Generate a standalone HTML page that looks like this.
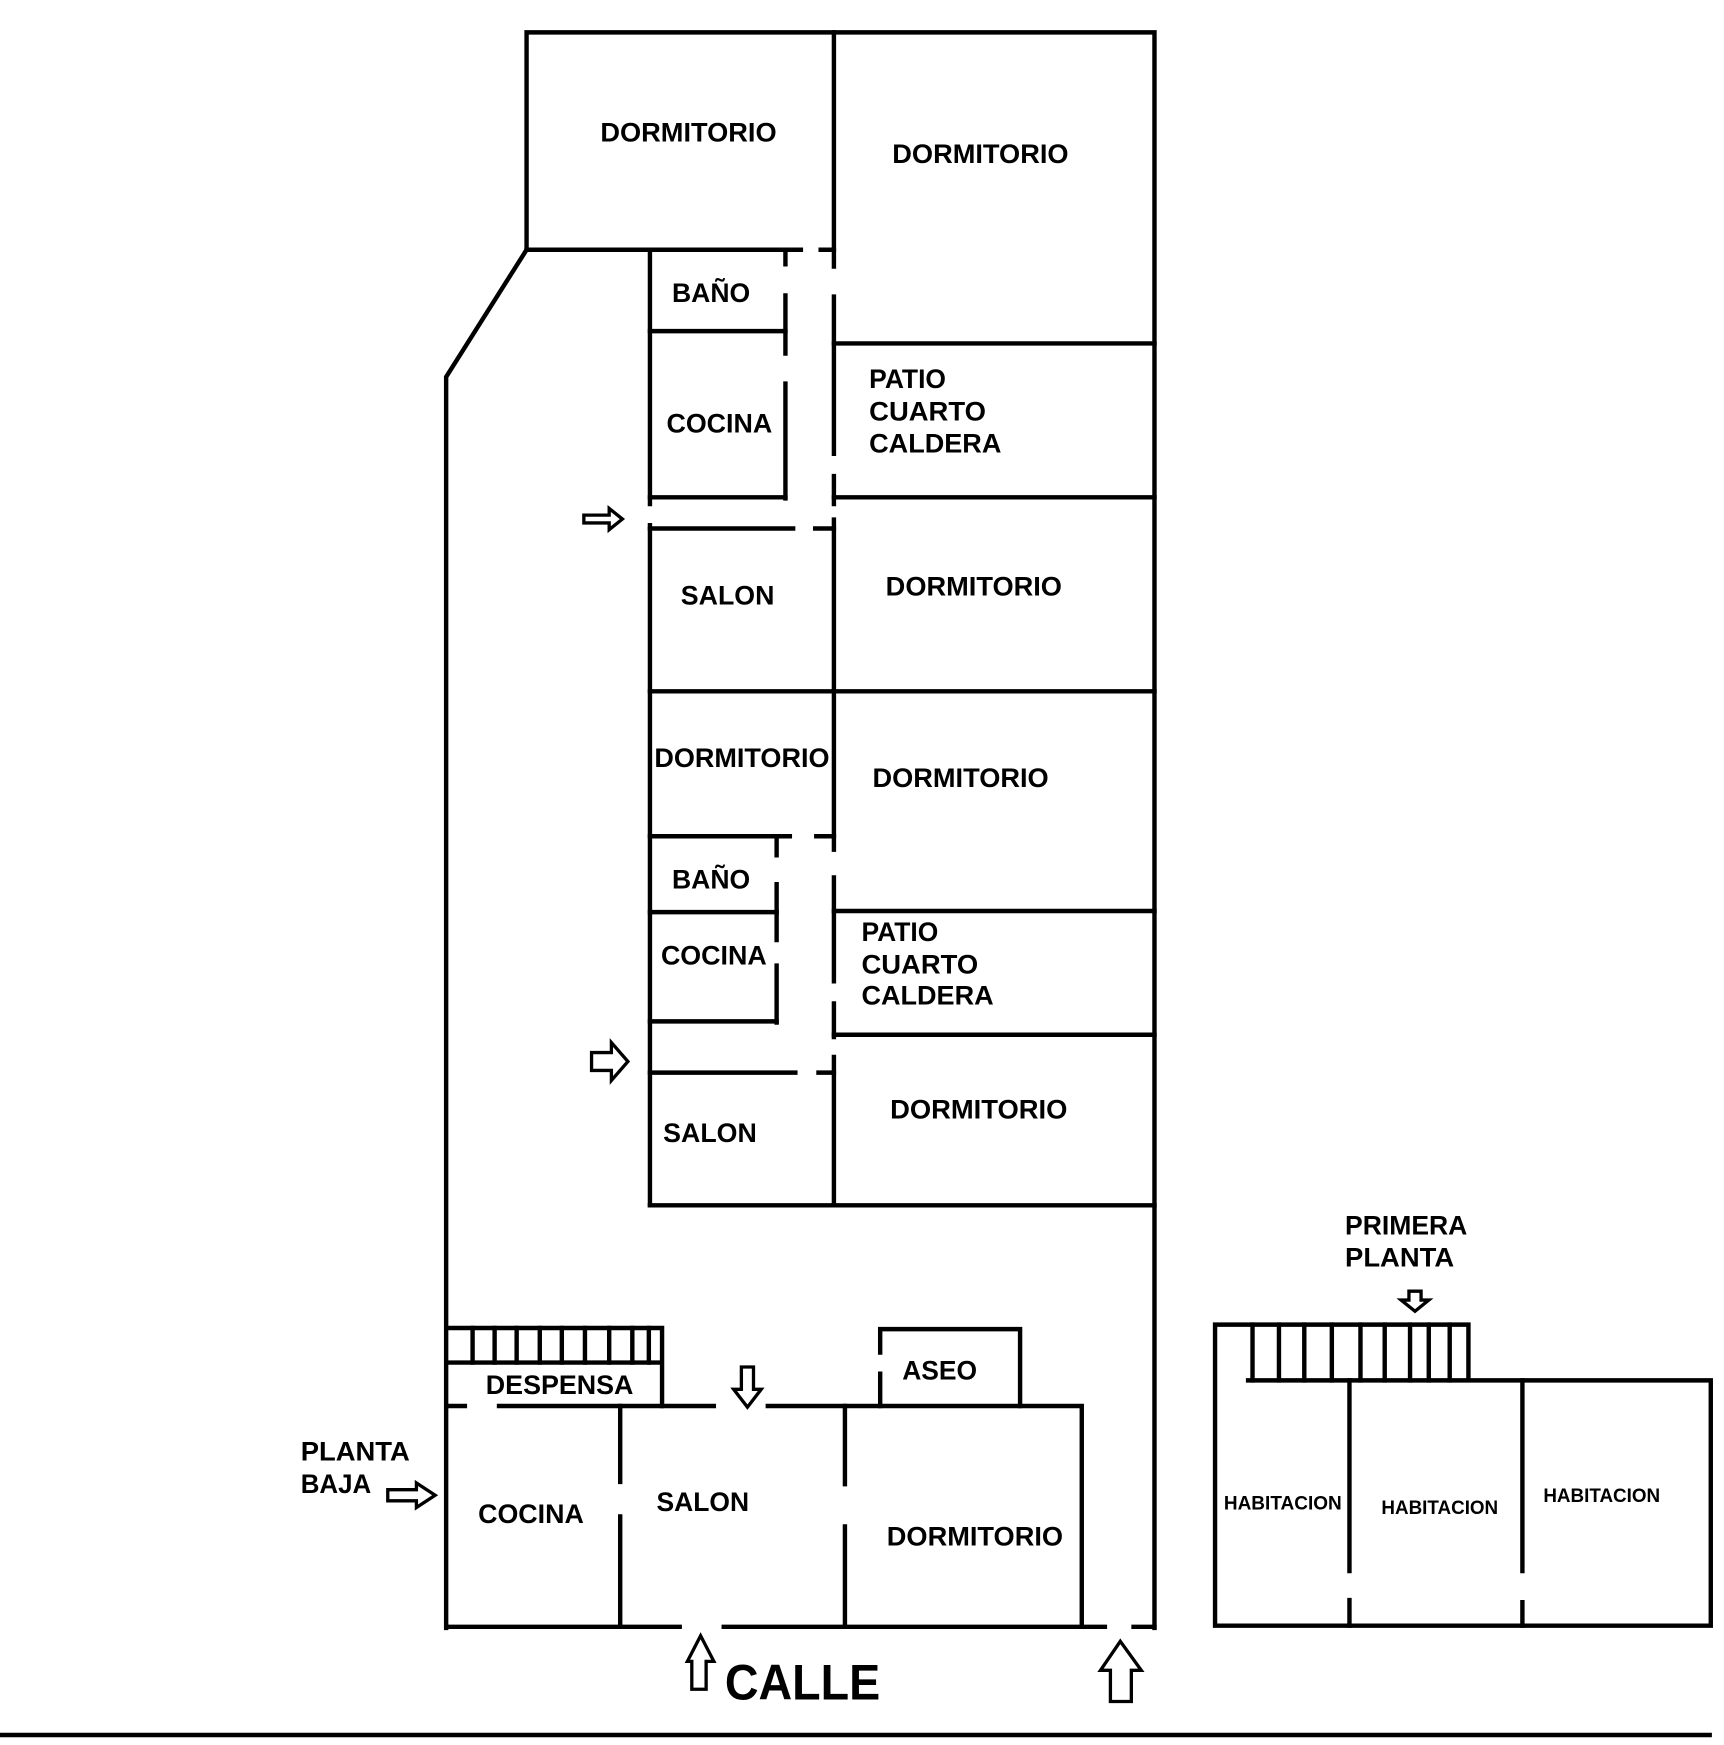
<!DOCTYPE html>
<html><head><meta charset="utf-8"><style>
html,body{margin:0;padding:0;background:#fff;width:1724px;height:1745px;overflow:hidden}
svg{display:block}
text{font-family:"Liberation Sans",Arial,sans-serif;font-weight:bold;fill:#000}
</style></head><body>
<svg width="1724" height="1745" viewBox="0 0 1565 1565" preserveAspectRatio="none" xmlns="http://www.w3.org/2000/svg">
<g stroke="#000" stroke-width="4" fill="none" stroke-linecap="square">
<!-- upper building outer -->
<path d="M478 224 V29 H1048 V1460"/>
<path d="M478 224 L405 338 V1460"/>
<path d="M478 224 H727 M745 224 H757"/>
<!-- central corridor wall x=757 -->
<path d="M757 29 V239 M757 266 V407 M757 427 V452 M757 466 V762 M757 787 V880 M757 900 V930 M757 948 V1081"/>
<!-- top bano/cocina -->
<path d="M590 224 V452 M590 471 V1081"/>
<path d="M590 297 H713 M590 446 H713"/>
<path d="M713 226 V237 M713 265 V317 M713 344 V447"/>
<path d="M757 308 H1048 M757 446 H1048"/>
<path d="M590 474 H720 M740 474 H757"/>
<path d="M590 620 H1048"/>
<path d="M590 750 H717 M741 750 H757"/>
<path d="M705 750 V767 M705 793 V843 M705 866 V917"/>
<path d="M590 818 H705 M590 916 H705"/>
<path d="M757 817 H1048 M757 928 H1048"/>
<path d="M590 962 H722 M743 962 H757"/>
<path d="M590 1081 H1048"/>
<!-- ground floor -->
<path d="M406 1191 H601 V1261 M406 1222 H601"/>
<path d="M429 1191 V1222 M449 1191 V1222 M469 1191 V1222 M490 1191 V1222 M510 1191 V1222 M531 1191 V1222 M553 1191 V1222 M574 1191 V1222 M589 1191 V1222"/>
<path d="M406 1261 H422 M453 1261 H648 M697 1261 H982 V1459"/>
<path d="M799 1213 V1192 H926 V1261 M799 1232 V1261"/>
<path d="M563 1261 V1329 M563 1360 V1459"/>
<path d="M767 1261 V1331 M767 1369 V1459"/>
<path d="M406 1459 H617 M657 1459 H1003 M1029 1459 H1048"/>
<!-- right building -->
<path d="M1103 1188 H1333 V1238 M1103 1188 V1458 H1553 V1238 H1133"/>
<path d="M1137 1188 V1238 M1161 1188 V1238 M1184 1188 V1238 M1209 1188 V1238 M1235 1188 V1238 M1257 1188 V1238 M1280 1188 V1238 M1297 1188 V1238 M1316 1188 V1238"/>
<path d="M1225 1238 V1409 M1225 1435 V1458 M1382 1238 V1409 M1382 1437 V1458"/>
<path d="M0 1556 H1552"/>
</g>
<g stroke="#000" stroke-width="3" fill="#fff" stroke-linejoin="miter">
<polygon points="530,462 553,462 553,456 565,465.5 553,475 553,469 530,469"/>
<polygon points="537,944 555,944 555,935 570,952 555,969 555,960 537,960"/>
<polygon points="352,1336 378,1336 378,1330 395,1341 378,1352 378,1346 352,1346"/>
<polygon points="673,1226 684,1226 684,1246 691,1246 678.5,1262 666,1246 673,1246"/>
<polygon points="1279,1158 1290,1158 1290,1166 1297,1166 1284.5,1176 1272,1166 1279,1166"/>
<polygon points="636,1467 648,1490 641,1490 641,1515 628,1515 628,1490 624,1490"/>
<polygon points="1017,1472 1036,1498 1027,1498 1027,1526 1008,1526 1008,1498 999,1498"/>
</g>
<g font-size="24">
<text x="545" y="127" textLength="160" lengthAdjust="spacingAndGlyphs">DORMITORIO</text>
<text x="810" y="146" textLength="160" lengthAdjust="spacingAndGlyphs">DORMITORIO</text>
<text x="610" y="271" textLength="71" lengthAdjust="spacingAndGlyphs">BAÑO</text>
<text x="605" y="388" textLength="96" lengthAdjust="spacingAndGlyphs">COCINA</text>
<text x="789" y="348">PATIO</text>
<text x="789" y="377" textLength="106" lengthAdjust="spacingAndGlyphs">CUARTO</text>
<text x="789" y="406" textLength="120" lengthAdjust="spacingAndGlyphs">CALDERA</text>
<text x="618" y="542" textLength="85" lengthAdjust="spacingAndGlyphs">SALON</text>
<text x="804" y="534" textLength="160" lengthAdjust="spacingAndGlyphs">DORMITORIO</text>
<text x="594" y="688" textLength="159" lengthAdjust="spacingAndGlyphs">DORMITORIO</text>
<text x="792" y="706" textLength="160" lengthAdjust="spacingAndGlyphs">DORMITORIO</text>
<text x="610" y="797" textLength="71" lengthAdjust="spacingAndGlyphs">BAÑO</text>
<text x="600" y="865" textLength="96" lengthAdjust="spacingAndGlyphs">COCINA</text>
<text x="782" y="844">PATIO</text>
<text x="782" y="873" textLength="106" lengthAdjust="spacingAndGlyphs">CUARTO</text>
<text x="782" y="901" textLength="120" lengthAdjust="spacingAndGlyphs">CALDERA</text>
<text x="602" y="1024" textLength="85" lengthAdjust="spacingAndGlyphs">SALON</text>
<text x="808" y="1003" textLength="161" lengthAdjust="spacingAndGlyphs">DORMITORIO</text>
<text x="441" y="1250" textLength="134" lengthAdjust="spacingAndGlyphs">DESPENSA</text>
<text x="819" y="1237" textLength="68" lengthAdjust="spacingAndGlyphs">ASEO</text>
<text x="434" y="1366" textLength="96" lengthAdjust="spacingAndGlyphs">COCINA</text>
<text x="596" y="1355" textLength="84" lengthAdjust="spacingAndGlyphs">SALON</text>
<text x="805" y="1386" textLength="160" lengthAdjust="spacingAndGlyphs">DORMITORIO</text>
<text x="273" y="1310" textLength="99" lengthAdjust="spacingAndGlyphs">PLANTA</text>
<text x="273" y="1339" textLength="64" lengthAdjust="spacingAndGlyphs">BAJA</text>
<text x="1221" y="1107" textLength="111" lengthAdjust="spacingAndGlyphs">PRIMERA</text>
<text x="1221" y="1136" textLength="99" lengthAdjust="spacingAndGlyphs">PLANTA</text>
</g>
<g font-size="17">
<text x="1111" y="1354" textLength="107" lengthAdjust="spacingAndGlyphs">HABITACION</text>
<text x="1254" y="1358" textLength="106" lengthAdjust="spacingAndGlyphs">HABITACION</text>
<text x="1401" y="1347" textLength="106" lengthAdjust="spacingAndGlyphs">HABITACION</text>
</g>
<text x="658" y="1524" font-size="45" textLength="141" lengthAdjust="spacingAndGlyphs">CALLE</text>
</svg>
</body></html>
